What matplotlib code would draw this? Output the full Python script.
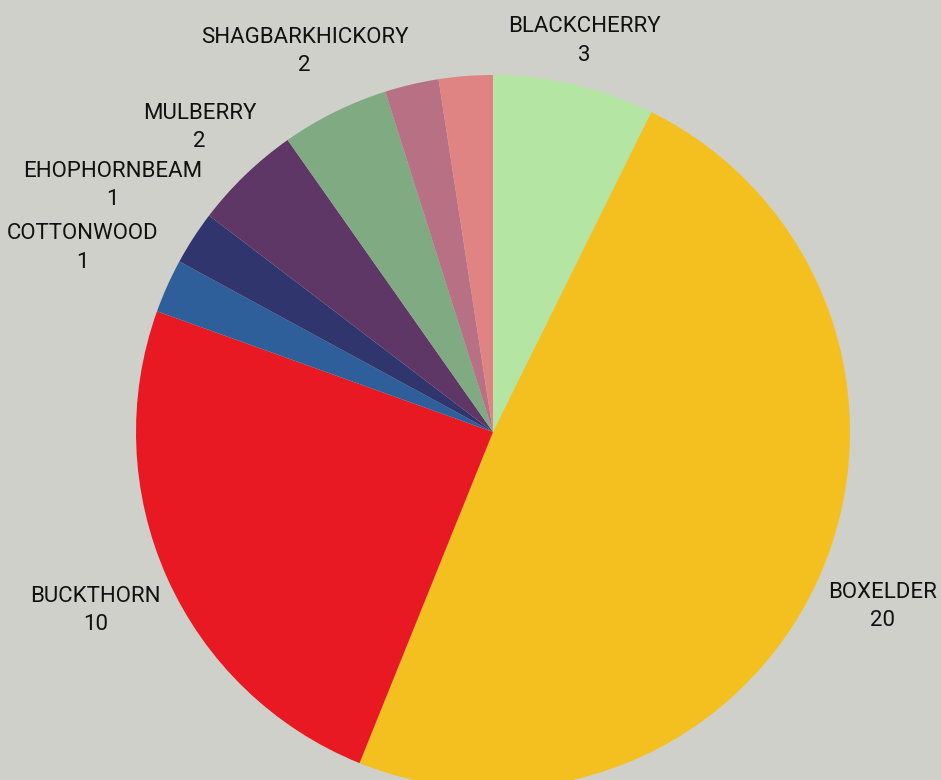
import numpy as np
import matplotlib.pyplot as plt

names = ['BLACKCHERRY', 'BOXELDER', 'BUCKTHORN', 'COTTONWOOD', 'EHOPHORNBEAM',
         'MULBERRY', 'SHAGBARKHICKORY', '', '']
counts = [3, 20, 10, 1, 1, 2, 2, 1, 1]
colors = ['#b5e5a3', '#f4c01f', '#e81922', '#2f5f9a', '#30356e',
          '#5e3766', '#80aa82', '#b87184', '#e08383']
# how far out each label sits (in radii)
label_r = [1.125, 1.195, 1.22, 1.26, 1.27, 1.185, 1.19, 1.2, 1.2]

bg = '#d0d0cb'
plt.rcParams['font.family'] = ['Roboto', 'DejaVu Sans']

fig = plt.figure(figsize=(9.41, 7.8), dpi=100, facecolor=bg)
ax = fig.add_axes([0, 0, 1, 1])
ax.set_facecolor(bg)

R = 357.0
cx, cy = 493.0, 432.0
wedges, _ = ax.pie(counts, colors=colors, startangle=90, counterclock=False,
                   radius=1.0, wedgeprops=dict(linewidth=0))

for w, name, n, d in zip(wedges, names, counts, label_r):
    if not name:
        continue
    ang = np.deg2rad((w.theta1 + w.theta2) / 2)
    ax.text(d * np.cos(ang), d * np.sin(ang), f'{name}\n{n}', ha='center', va='center',
            fontsize=16, linespacing=1.45, color='#111111')

ax.set_xlim(-cx / R, (941 - cx) / R)
ax.set_ylim(-(780 - cy) / R, cy / R)
ax.set_aspect('auto')
ax.axis('off')

fig.savefig('out.png', dpi=100, facecolor=bg)
